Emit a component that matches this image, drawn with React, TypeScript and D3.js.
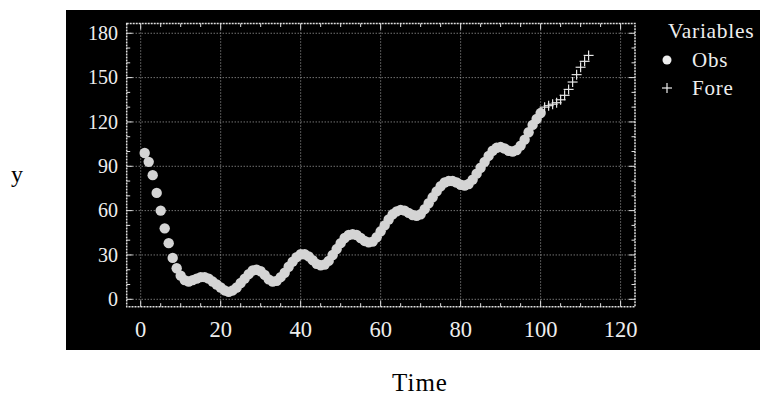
import React from "react";
import * as d3 from "d3";

const obsTime: number[] = d3.range(1, 101);
const obsValues: number[] = [
  99, 93, 84, 72, 60, 48, 38, 28, 21, 16,
  13, 12, 13, 14, 15, 15, 14, 12, 10, 8,
  6, 5, 6, 8, 11, 14, 17, 19.5, 20, 19,
  16.5, 13.5, 12, 12.5, 15, 18, 22, 25.5, 28.5, 30.5,
  30.5, 29, 26.5, 24, 23, 23.5, 26, 30, 34, 38,
  41.5, 43.5, 44, 43.5, 41.5, 39.5, 38.5, 39, 42, 46,
  50, 54, 57.5, 59.5, 60.5, 60, 58.5, 57, 56.5, 57.5,
  61, 65, 69, 73, 76.5, 79, 80, 80, 79, 77.5,
  77, 78, 81, 85, 89, 93, 97, 100.5, 102.5, 103,
  102, 100.5, 100, 101, 104, 108, 113, 118, 122, 126,
];
const foreTime: number[] = d3.range(101, 113);
const foreValues: number[] = [130, 131, 132, 133, 135, 138, 142, 147, 152, 157, 161, 165];

const xTicks: number[] = [0, 20, 40, 60, 80, 100, 120];
const yTicks: number[] = [0, 30, 60, 90, 120, 150, 180];
const xMinor: number[] = d3.range(0, 125, 5);
const yMinor: number[] = d3.range(0, 190, 10);
const legendItems: string[] = ["Obs", "Fore"];

const W = 760;
const H = 395;
const L = 126.7, R = 635, T = 23.5, B = 306.7;
const serif = "Liberation Serif, Times New Roman, DejaVu Serif, serif";

export default function App() {
  const x = d3.scaleLinear().domain([-3.5, 123.6]).range([L, R]);
  const y = d3.scaleLinear().domain([-5, 186.6]).range([B, T]);
  const grid = "#a8a8a8";
  const frame = "#e0e0e0";
  const txt = { fontFamily: serif };
  return (
    <svg width={W} height={H} style={{ position: "absolute", left: 0, top: 0, fontFamily: serif }}>
      <rect x={0} y={0} width={W} height={H} fill="#fff" />
      <rect x={66} y={10} width={W - 66} height={340} fill="#000" />
      {xTicks.map((t) => (
        <line key={"gx" + t} x1={x(t)} x2={x(t)} y1={T} y2={B} stroke={grid} strokeWidth={1} strokeDasharray="1,2" />
      ))}
      {yTicks.map((t) => (
        <line key={"gy" + t} x1={L} x2={R} y1={y(t)} y2={y(t)} stroke={grid} strokeWidth={1} strokeDasharray="1,2" />
      ))}
      <rect x={L} y={T} width={R - L} height={B - T} fill="none" stroke={frame} strokeWidth={1.5} strokeDasharray="2,1" />
      {xMinor.map((t) => {
        const len = t % 20 === 0 ? 6 : 3.5;
        return (
          <g key={"mx" + t}>
            <line x1={x(t)} x2={x(t)} y1={B} y2={B - len} stroke={frame} strokeWidth={1} />
            <line x1={x(t)} x2={x(t)} y1={T} y2={T + len} stroke={frame} strokeWidth={1} />
          </g>
        );
      })}
      {yMinor.map((t) => {
        const len = t % 30 === 0 ? 6 : 3.5;
        return (
          <g key={"my" + t}>
            <line x1={L} x2={L + len} y1={y(t)} y2={y(t)} stroke={frame} strokeWidth={1} />
            <line x1={R} x2={R - len} y1={y(t)} y2={y(t)} stroke={frame} strokeWidth={1} />
          </g>
        );
      })}
      {yTicks.map((t) => (
        <text key={"ly" + t} x={118} y={y(t)} dy="0.34em" textAnchor="end" fill="#eee" style={txt} fontSize={20}>
          {t}
        </text>
      ))}
      {xTicks.map((t) => (
        <text key={"lx" + t} x={x(t)} y={337} textAnchor="middle" fill="#eee" style={txt} fontSize={22.5}>
          {t}
        </text>
      ))}
      {obsValues.map((v, i) => (
        <circle key={"o" + i} cx={x(obsTime[i])} cy={y(v)} r={5.2} fill="#d4d4d4" />
      ))}
      {foreValues.map((v, i) => {
        const cx = x(foreTime[i]);
        const cy = y(v);
        return (
          <g key={"f" + i} stroke="#e6e6e6" strokeWidth={1.2}>
            <line x1={cx - 5} x2={cx + 5} y1={cy} y2={cy} />
            <line x1={cx} x2={cx} y1={cy - 5} y2={cy + 5} />
          </g>
        );
      })}
      <text x={668} y={38} fill="#eee" style={txt} fontSize={21.5} letterSpacing={0.7}>
        Variables
      </text>
      {legendItems.map((name, i) => {
        const cy = 60 + i * 28;
        return (
          <g key={"lg" + name}>
            {i === 0 ? (
              <circle cx={667} cy={cy} r={4.5} fill="#eee" />
            ) : (
              <g stroke="#eee" strokeWidth={1.2}>
                <line x1={662} x2={672} y1={cy} y2={cy} />
                <line x1={667} x2={667} y1={cy - 5} y2={cy + 5} />
              </g>
            )}
            <text x={692} y={cy} dy="0.35em" fill="#eee" style={txt} fontSize={21} letterSpacing={0.8}>
              {name}
            </text>
          </g>
        );
      })}
      <text x={17} y={182} textAnchor="middle" fill="#000" style={txt} fontSize={24}>
        y
      </text>
      <text x={420} y={391} textAnchor="middle" fill="#000" style={txt} fontSize={25} letterSpacing={1}>
        Time
      </text>
    </svg>
  );
}
